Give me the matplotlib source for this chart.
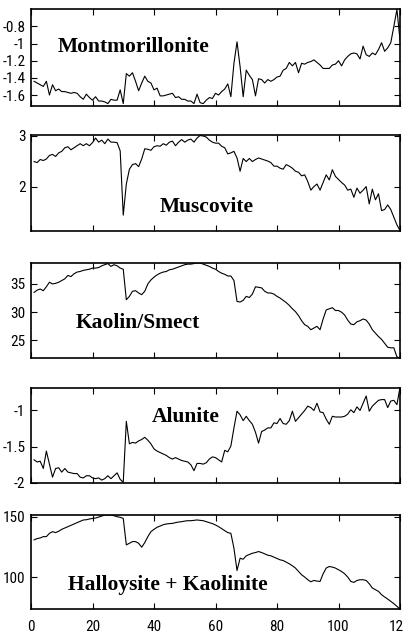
import numpy as np
import matplotlib
matplotlib.use("Agg")
import matplotlib.pyplot as plt
from matplotlib import font_manager as fm

x = np.arange(1, 121)

montmorillonite = [
    -1.44, -1.46, -1.48, -1.50, -1.44, -1.60, -1.48, -1.55, -1.53, -1.56,
    -1.56, -1.57, -1.58, -1.57, -1.58, -1.62, -1.65, -1.59, -1.63, -1.66,
    -1.62, -1.67, -1.67, -1.68, -1.70, -1.65, -1.66, -1.66, -1.54, -1.70,
    -1.35, -1.38, -1.34, -1.44, -1.55, -1.46, -1.38, -1.44, -1.46, -1.54,
    -1.52, -1.61, -1.61, -1.60, -1.59, -1.58, -1.63, -1.62, -1.65, -1.65,
    -1.67, -1.67, -1.70, -1.59, -1.69, -1.70, -1.66, -1.63, -1.64, -1.58,
    -1.60, -1.56, -1.53, -1.47, -1.62, -1.23, -0.98, -1.27, -1.62, -1.31,
    -1.37, -1.42, -1.61, -1.41, -1.42, -1.46, -1.42, -1.44, -1.42, -1.39,
    -1.38, -1.31, -1.29, -1.22, -1.26, -1.22, -1.34, -1.23, -1.24, -1.22,
    -1.21, -1.19, -1.22, -1.25, -1.29, -1.29, -1.29, -1.25, -1.24, -1.20,
    -1.26, -1.19, -1.15, -1.12, -1.11, -1.12, -1.18, -1.03, -1.13, -1.15,
    -1.11, -1.13, -1.07, -0.99, -1.09, -1.05, -0.99, -0.80, -0.60, -0.96,
]

muscovite = [
    2.49, 2.47, 2.53, 2.51, 2.54, 2.61, 2.63, 2.59, 2.66, 2.69,
    2.76, 2.78, 2.72, 2.76, 2.80, 2.84, 2.80, 2.84, 2.80, 2.86,
    2.95, 2.87, 2.91, 2.84, 2.93, 2.87, 2.87, 2.86, 2.70, 1.44,
    2.05, 2.34, 2.43, 2.45, 2.39, 2.54, 2.74, 2.73, 2.71, 2.78,
    2.80, 2.79, 2.84, 2.81, 2.87, 2.89, 2.80, 2.87, 2.92, 2.87,
    2.91, 2.93, 2.87, 2.95, 3.00, 2.99, 2.97, 2.91, 2.87, 2.85,
    2.85, 2.79, 2.76, 2.64, 2.66, 2.69, 2.56, 2.30, 2.55, 2.49,
    2.55, 2.49, 2.53, 2.56, 2.54, 2.52, 2.50, 2.47, 2.40, 2.40,
    2.36, 2.34, 2.43, 2.40, 2.36, 2.30, 2.28, 2.21, 2.23, 2.10,
    1.93, 2.00, 2.05, 1.93, 2.08, 2.23, 2.13, 2.33, 2.20, 2.14,
    2.08, 2.03, 1.93, 1.95, 1.79, 1.97, 1.87, 1.93, 2.00, 1.66,
    1.95, 1.74, 1.86, 1.53, 1.55, 1.64, 1.55, 1.40, 1.25, 1.14,
]

kaolin_smect = [
    33.5, 33.9, 34.1, 33.8, 34.5, 35.3, 35.0, 35.1, 35.3, 35.6,
    35.9, 36.5, 36.3, 36.8, 37.1, 37.2, 37.4, 37.5, 37.6, 37.8,
    37.8, 37.9, 38.2, 38.4, 38.6, 38.1, 38.4, 38.2, 37.8, 37.6,
    32.2, 32.8, 33.7, 33.8, 33.4, 33.1, 33.7, 35.0, 35.7, 36.2,
    36.6, 36.9, 37.1, 37.2, 37.5, 37.6, 37.8, 38.0, 38.2, 38.4,
    38.5, 38.5, 38.6, 38.7, 38.7, 38.5, 38.3, 38.1, 37.8, 37.6,
    37.2, 36.9, 36.7, 36.4, 36.4, 35.6, 31.9, 31.8, 32.1, 32.8,
    32.6, 33.2, 34.5, 34.4, 34.3, 33.7, 33.4, 33.4, 33.2, 32.8,
    32.5, 32.1, 31.7, 31.2, 30.6, 30.1, 29.4, 28.5, 27.8, 27.5,
    26.9, 27.2, 27.5, 26.9, 28.8, 30.4, 30.6, 30.8, 30.3, 30.3,
    30.0, 29.5, 28.6, 27.9, 27.8, 28.3, 28.5, 28.8, 28.6, 27.9,
    26.9, 26.3, 25.7, 25.2, 24.5, 23.8, 23.7, 23.7, 22.1, 21.9,
]

alunite = [
    -1.68, -1.71, -1.70, -1.80, -1.56, -1.74, -1.92, -1.80, -1.79, -1.85,
    -1.80, -1.85, -1.86, -1.87, -1.87, -1.92, -1.93, -1.90, -1.90, -1.93,
    -1.94, -1.93, -1.96, -1.94, -1.90, -1.94, -1.90, -1.86, -1.95, -1.99,
    -1.15, -1.46, -1.44, -1.45, -1.42, -1.40, -1.37, -1.41, -1.46, -1.53,
    -1.56, -1.58, -1.60, -1.62, -1.65, -1.67, -1.65, -1.67, -1.69, -1.70,
    -1.71, -1.75, -1.83, -1.73, -1.73, -1.74, -1.72, -1.67, -1.64, -1.65,
    -1.68, -1.71, -1.55, -1.57, -1.49, -1.24, -1.01, -1.06, -1.14, -1.08,
    -1.14, -1.19, -1.30, -1.45, -1.29, -1.27, -1.24, -1.24, -1.17, -1.18,
    -1.11, -1.18, -1.19, -1.14, -1.01, -1.15, -1.10, -1.05, -1.00, -0.94,
    -0.96, -1.00, -0.90, -1.02, -1.03, -1.12, -1.19, -1.08, -1.09, -1.09,
    -1.09, -1.08, -1.05, -0.99, -1.03, -0.95, -1.00, -0.90, -0.80, -1.01,
    -0.94, -0.90, -0.86, -0.85, -0.85, -0.96, -0.87, -0.86, -0.92, -0.68,
]

halloysite_kaolinite = [
    130.9, 132.0, 132.5, 133.6, 133.6, 136.3, 137.7, 136.9, 138.0, 139.6,
    140.7, 141.8, 142.9, 144.0, 145.1, 146.2, 147.3, 147.5, 148.1, 148.6,
    148.9, 149.7, 150.5, 151.4, 151.4, 151.4, 150.8, 150.0, 149.5, 148.6,
    126.8, 128.1, 129.5, 129.5, 128.1, 124.9, 128.7, 133.6, 137.7, 139.6,
    141.3, 142.3, 143.4, 144.0, 144.3, 144.5, 145.1, 145.6, 145.9, 146.4,
    146.7, 146.7, 147.0, 147.3, 147.0, 146.7, 145.9, 145.1, 144.3, 143.2,
    141.8, 140.2, 138.5, 136.9, 136.3, 124.0, 105.7, 115.8, 115.0, 117.8,
    118.9, 119.9, 120.5, 121.3, 120.5, 119.4, 118.3, 117.8, 116.7, 115.6,
    114.5, 113.9, 112.6, 111.2, 109.6, 107.7, 104.9, 102.2, 100.3, 98.1,
    96.4, 97.5, 97.0, 96.7, 103.0, 107.7, 109.0, 108.5, 107.7, 106.3,
    104.9, 103.0, 100.3, 96.7, 95.9, 97.5, 98.1, 98.1, 97.5, 94.8,
    91.3, 89.9, 88.5, 85.8, 83.9, 82.2, 80.3, 78.4, 76.2, 74.0,
]

names = ["Montmorillonite", "Muscovite", "Kaolin/Smect", "Alunite",
         "Halloysite + Kaolinite"]
series = [montmorillonite, muscovite, kaolin_smect, alunite, halloysite_kaolinite]
ylims = [(-1.728, -0.597), (1.13, 3.01), (21.9, 38.7), (-2.0, -0.69), (74.0, 151.4)]
yticks = [[-1.6, -1.4, -1.2, -1, -0.8], [2, 3], [25, 30, 35], [-2, -1.5, -1], [100, 150]]
ytick_labels = [["-1.6", "-1.4", "-1.2", "-1", "-0.8"], ["2", "3"], ["25", "30", "35"],
                ["-2", "-1.5", "-1"], ["100", "150"]]
xticks = [0, 20, 40, 60, 80, 100, 120]

# label position in axes fraction (left, baseline)
label_pos = [(0.073, 0.56), (0.348, 0.20), (0.122, 0.313), (0.327, 0.645), (0.099, 0.202)]

# axes boxes in figure pixels (top, bottom)
W, H = 404, 637
boxes = [(9, 106), (135, 231), (263, 358), (388, 483), (515, 609)]
left, right = 31, 400

# narrow sans for the tick labels if one is installed
avail = {f.name for f in fm.fontManager.ttflist}
tick_kw = {"family": ["Liberation Sans", "DejaVu Sans"], "fontsize": 9}
for cand in ["Liberation Sans Narrow", "Arial Narrow", "Nimbus Sans Narrow",
             "Roboto Condensed", "DejaVu Sans Condensed"]:
    if cand in avail:
        tick_kw = {"family": [cand, "DejaVu Sans"], "fontsize": 11}
        break
else:
    if any(f.name == "DejaVu Sans" and f.stretch == "condensed" for f in fm.fontManager.ttflist):
        tick_kw = {"family": ["DejaVu Sans"], "fontsize": 10.5, "fontstretch": "condensed"}

fig = plt.figure(figsize=(W / 100, H / 100), dpi=100)
for i in range(5):
    top, bot = boxes[i]
    ax = fig.add_axes([left / W, (H - bot) / H, (right - left) / W, (bot - top) / H])
    ax.plot(x, series[i], color="black", linewidth=0.8)
    ax.set_xlim(0, 120)
    ax.set_ylim(*ylims[i])
    ax.set_xticks(xticks)
    ax.set_yticks(yticks[i])
    ax.set_yticklabels(ytick_labels[i], **tick_kw)
    if i == 4:
        ax.set_xticklabels([str(t) for t in xticks], **tick_kw)
    else:
        ax.set_xticklabels([])
    ax.tick_params(direction="in", top=True, right=True, length=4, width=0.8)
    ax.tick_params(axis="y", pad=4)
    ax.tick_params(axis="x", pad=8)
    for s in ax.spines.values():
        s.set_linewidth(1.2)
    ax.text(label_pos[i][0], label_pos[i][1], names[i], transform=ax.transAxes,
            family="Liberation Serif", fontweight="bold", fontsize=15.5,
            ha="left", va="baseline")

fig.savefig("out.png", dpi=100)
